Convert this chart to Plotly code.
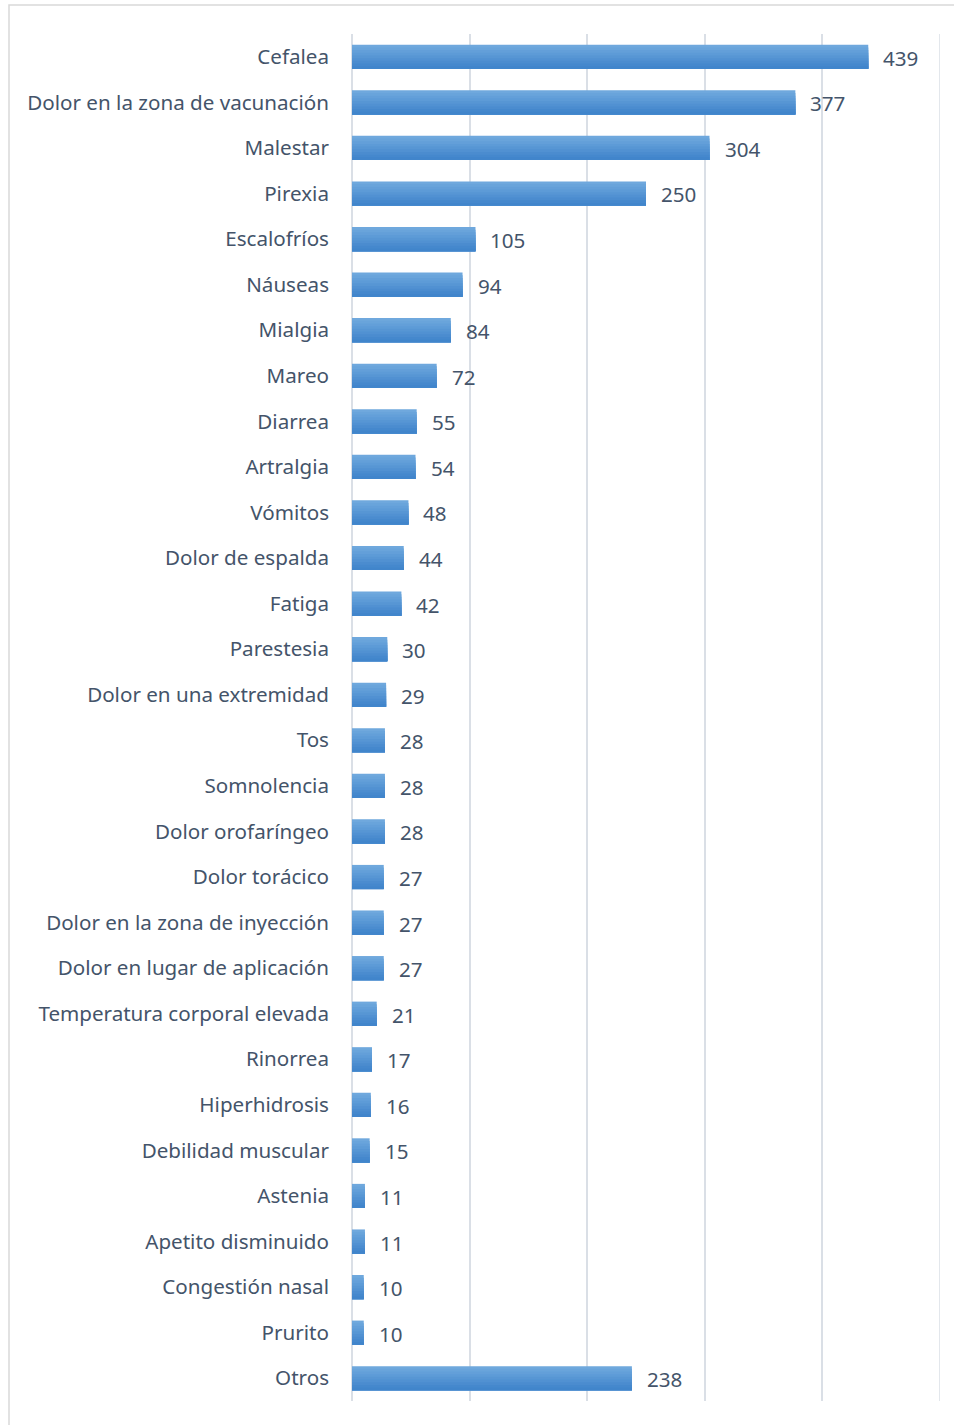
import plotly.graph_objects as go

categorias = [
    "Cefalea", "Dolor en la zona de vacunación", "Malestar", "Pirexia",
    "Escalofríos", "Náuseas", "Mialgia", "Mareo", "Diarrea", "Artralgia",
    "Vómitos", "Dolor de espalda", "Fatiga", "Parestesia",
    "Dolor en una extremidad", "Tos", "Somnolencia", "Dolor orofaríngeo",
    "Dolor torácico", "Dolor en la zona de inyección",
    "Dolor en lugar de aplicación", "Temperatura corporal elevada",
    "Rinorrea", "Hiperhidrosis", "Debilidad muscular", "Astenia",
    "Apetito disminuido", "Congestión nasal", "Prurito", "Otros",
]
casos = [439, 377, 304, 250, 105, 94, 84, 72, 55, 54, 48, 44, 42, 30, 29,
         28, 28, 28, 27, 27, 27, 21, 17, 16, 15, 11, 11, 10, 10, 238]
ticks_x = [0, 100, 200, 300, 400, 500]

FONT = "Noto Sans"
FONT_SIZE = 20.6
TEXT_COLOR = "#44546a"
GRID_COLOR = "#dadfe6"

# vertical gradient for each bar: lighter on top, darker at the bottom
gradiente = ["#6fa8dd", "#69a4db", "#639fd9", "#5d9bd7", "#5796d4",
             "#5191d2", "#4b8ccf", "#4588cd", "#4185cb"]
grosor = 0.53
banda = grosor / len(gradiente)

fig = go.Figure()
for i, color in enumerate(gradiente):
    # each band runs from its own top edge down to the bottom of the bar,
    # so the next band covers it and no seams are left between them
    fig.add_trace(go.Bar(
        x=casos, y=categorias, orientation="h",
        width=grosor - i * banda, offset=-grosor / 2 + i * banda,
        marker=dict(color=color, line=dict(width=0)),
        hoverinfo="skip", showlegend=False,
    ))

for cat, val in zip(categorias, casos):
    fig.add_annotation(
        x=val, y=cat, text=str(val), showarrow=False,
        xanchor="left", xshift=13, yshift=-1,
        font=dict(family=FONT, size=FONT_SIZE, color=TEXT_COLOR),
    )

# gridline at the right end of the value axis
fig.add_shape(
    type="line", xref="x", yref="paper",
    x0=ticks_x[-1], x1=ticks_x[-1], y0=0, y1=1,
    line=dict(color=GRID_COLOR, width=1.5), layer="below",
)

# outer chart border
fig.add_shape(
    type="rect", xref="paper", yref="paper",
    x0=(9 - 352) / 588, x1=(962 - 352) / 588,
    y0=-(1430 - 1401) / 1367, y1=1 + (34 - 5) / 1367,
    line=dict(color="#d9d9d9", width=1.5), fillcolor="rgba(0,0,0,0)",
    layer="below",
)

fig.update_layout(
    width=954, height=1425,
    margin=dict(l=352, r=14, t=34, b=24),
    paper_bgcolor="white", plot_bgcolor="white",
    barmode="overlay",
    font=dict(family=FONT, size=FONT_SIZE, color=TEXT_COLOR),
    xaxis=dict(
        range=[0, 500], tickvals=ticks_x, showticklabels=False,
        showgrid=True, gridcolor=GRID_COLOR, gridwidth=1.5,
        zeroline=True, zerolinecolor=GRID_COLOR, zerolinewidth=1.5,
        showline=False, fixedrange=True,
    ),
    yaxis=dict(
        categoryorder="array", categoryarray=categorias,
        autorange="reversed", showgrid=False, zeroline=False,
        showline=False, ticks="", ticklabelstandoff=22,
        tickfont=dict(family=FONT, size=FONT_SIZE, color=TEXT_COLOR),
    ),
)

fig.write_html("out.html")
